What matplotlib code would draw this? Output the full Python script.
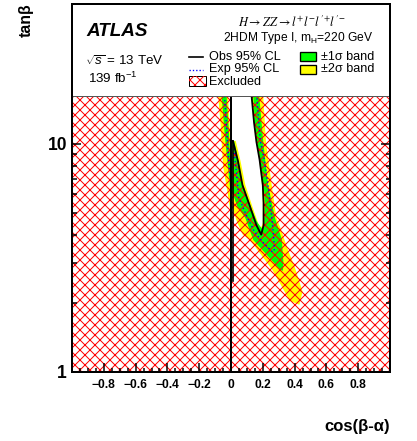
import matplotlib
matplotlib.use("Agg")
import matplotlib.pyplot as plt
from matplotlib.path import Path
from matplotlib.patches import PathPatch, Rectangle
from matplotlib.lines import Line2D
from matplotlib.ticker import MultipleLocator, LogLocator, NullFormatter, FixedLocator
import numpy as np

plt.rcParams['font.family'] = 'Liberation Sans'
plt.rcParams['mathtext.fontset'] = 'custom'
plt.rcParams['mathtext.rm'] = 'Liberation Sans'
plt.rcParams['mathtext.it'] = 'Liberation Sans:italic'
plt.rcParams['mathtext.bf'] = 'Liberation Sans:bold'
plt.rcParams['hatch.linewidth'] = 0.6
plt.rcParams['hatch.color'] = 'red'

# observed allowed region (white), x = cos(beta-alpha), t = tan(beta)
obs_x = [0.0, 0.0, 0.012, 0.044, 0.072, 0.12, 0.16, 0.19, 0.205, 0.205, 0.2, 0.18, 0.16, 0.145, 0.13, 0.1]
obs_t = [41, 10.3, 10.3, 8.4, 6.6, 5.3, 4.4, 4.0, 4.4, 5.5, 6.6, 8.5, 10.2, 12.4, 16.1, 41]

# expected contour
exp_x = [-0.042, -0.04, -0.025, -0.012, -0.002, 0.0, 0.0, 0.012, 0.03, 0.05, 0.1, 0.145, 0.2, 0.26,
         0.272, 0.27, 0.26, 0.233, 0.21, 0.185, 0.162, 0.14]
exp_t = [41, 16, 11, 8, 7, 7, 10.3, 10.3, 8.0, 5.8, 4.8, 4.15, 3.7, 3.36, 3.4, 3.8, 4.5, 6.6, 8.5,
         10.2, 16.1, 41]

# expected +2 sigma (outer yellow)
p2_x = [-0.08, -0.08, -0.065, -0.05, -0.02, -0.003, 0.01, 0.04, 0.075, 0.12, 0.26, 0.37, 0.43,
        0.45, 0.40, 0.36, 0.31, 0.286, 0.256, 0.22, 0.203, 0.18]
p2_t = [41, 16, 12, 8, 6, 5.0, 5.2, 4.5, 3.99, 3.79, 2.8, 2.05, 1.97, 2.25, 2.9, 3.4, 4.3, 4.73,
        6.6, 10.2, 16.1, 41]

# expected +1 sigma (outer green)
p1_x = [-0.06, -0.058, -0.04, -0.02, -0.005, 0.013, 0.04, 0.09, 0.14, 0.31, 0.327, 0.33, 0.32,
        0.277, 0.233, 0.203, 0.178, 0.16]
p1_t = [41, 16, 11, 8, 6.3, 6.0, 5.3, 4.73, 3.79, 2.8, 2.78, 3.0, 3.8, 4.73, 6.6, 10.2, 16.1, 41]

# expected -1 sigma
m1_x = [-0.028, -0.027, -0.012, -0.004, 0.0, 0.0, 0.02, 0.044, 0.072, 0.12, 0.16, 0.2, 0.21,
        0.215, 0.205, 0.185, 0.165, 0.15, 0.14, 0.12]
m1_t = [41, 16, 11, 8, 7.5, 10.3, 10.3, 8.6, 6.7, 5.4, 4.6, 4.2, 4.5, 5.5, 6.6, 8.5, 10.2, 12.4,
        16.1, 41]

# expected -2 sigma
m2_x = [-0.02, -0.018, -0.005, 0.0, 0.0, 0.03, 0.06, 0.09, 0.135, 0.17, 0.19, 0.2, 0.2, 0.195,
        0.178, 0.158, 0.143, 0.128, 0.1]
m2_t = [41, 16, 11, 10, 10.3, 10.3, 8.4, 6.6, 5.3, 4.5, 4.3, 4.5, 5.5, 6.6, 8.5, 10.2, 12.4, 16.1, 41]

# second observed line just right of zero
obs2_x = [0.012, 0.012]
obs2_t = [2.5, 10.3]

xmin, xmax = -1.0, 1.0
ymin, ymax = 1.0, 41.0
xticks = [-0.8, -0.6, -0.4, -0.2, 0.0, 0.2, 0.4, 0.6, 0.8]
xticklabels = ['\u22120.8', '\u22120.6', '\u22120.4', '\u22120.2', '0', '0.2', '0.4', '0.6', '0.8']
yticks = [1, 10]
yticklabels = ['1', '10']

fig = plt.figure(figsize=(417 / 120, 441 / 120), dpi=120)
ax = fig.add_axes([72 / 417, 69 / 441, 318 / 417, 368 / 441])
ax.set_yscale('log')
ax.set_xlim(xmin, xmax)
ax.set_ylim(ymin, ymax)

yellow = '#ffff00'
green = '#00ff00'

ax.fill(p2_x, p2_t, color=yellow, lw=0, zorder=1.0)
ax.fill(p1_x, p1_t, color=green, lw=0, zorder=1.1)
ax.fill(m1_x, m1_t, color=yellow, lw=0, zorder=1.2)
ax.fill(m2_x, m2_t, color='white', lw=0, zorder=1.3)

# excluded = whole frame minus observed allowed region
rect = np.array([[xmin, ymin], [xmax, ymin], [xmax, ymax], [xmin, ymax], [xmin, ymin]])
hole = np.column_stack([obs_x, obs_t])
area = 0.5 * np.sum(hole[:, 0] * np.roll(hole[:, 1], -1) - np.roll(hole[:, 0], -1) * hole[:, 1])
if area > 0:
    hole = hole[::-1]
hole = np.vstack([hole, hole[:1]])
verts = np.vstack([rect, hole])
codes = ([Path.MOVETO] + [Path.LINETO] * 3 + [Path.CLOSEPOLY] +
         [Path.MOVETO] + [Path.LINETO] * (len(hole) - 2) + [Path.CLOSEPOLY])
excl = PathPatch(Path(verts, codes), facecolor='none', edgecolor='red', lw=0, hatch='xxxx', zorder=1.5)
ax.add_patch(excl)

ax.plot(exp_x, exp_t, color='blue', lw=0.8, ls=(0, (1, 2)), zorder=1.7)
ax.plot(obs_x[1:], obs_t[1:], color='black', lw=1.1, zorder=1.8)
ax.plot([0, 0], [ymin, ymax], color='black', lw=1.2, zorder=1.8)
ax.plot(obs2_x, obs2_t, color='black', lw=1.0, zorder=1.8)

# legend / label box over the top part
ax.add_patch(Rectangle((0, 0.75), 1, 0.25, transform=ax.transAxes, facecolor='white',
                       edgecolor='#555555', lw=0.6, zorder=2.0))

T = ax.transAxes
ax.text(0.044, 0.912, 'ATLAS', transform=T, fontsize=11.3, fontweight='bold', style='italic',
        va='baseline', zorder=3)
ax.text(0.041, 0.845, r'$\sqrt{s}$ = 13 TeV', transform=T, fontsize=8, va='center', zorder=3)
ax.text(0.050, 0.797, r'139 fb$^{-1}$', transform=T, fontsize=8, va='center', zorder=3)
ax.text(0.692, 0.950, r"$H \rightarrow ZZ \rightarrow l^{+}l^{-}l'^{+}l'^{-}$", transform=T,
        fontsize=7.5, ha='center', va='center', math_fontfamily='stix', zorder=3)
ax.text(0.475, 0.908, r'2HDM Type I, m$_{\mathrm{H}}$=220 GeV', transform=T, fontsize=7.2,
        va='center', zorder=3)

ax.add_line(Line2D([0.368, 0.412], [0.855, 0.855], transform=T, color='black', lw=1.0, zorder=3))
ax.add_line(Line2D([0.368, 0.412], [0.822, 0.822], transform=T, color='blue', lw=0.8,
                   ls=(0, (1, 1.5)), zorder=3))
ax.add_patch(Rectangle((0.368, 0.777), 0.053, 0.027, transform=T, facecolor='white',
                       edgecolor='black', lw=0.6, zorder=3))
ax.add_patch(Rectangle((0.368, 0.777), 0.053, 0.027, transform=T, facecolor='none',
                       edgecolor='red', lw=0, hatch='xxxx', zorder=3.1))
ax.text(0.431, 0.857, 'Obs 95% CL', transform=T, fontsize=7.6, va='center', zorder=3)
ax.text(0.431, 0.823, 'Exp 95% CL', transform=T, fontsize=7.6, va='center', zorder=3)
ax.text(0.431, 0.789, 'Excluded', transform=T, fontsize=7.6, va='center', zorder=3)

ax.add_patch(Rectangle((0.717, 0.844), 0.050, 0.025, transform=T, facecolor=green,
                       edgecolor='black', lw=0.8, zorder=3))
ax.add_patch(Rectangle((0.717, 0.809), 0.050, 0.025, transform=T, facecolor=yellow,
                       edgecolor='black', lw=0.8, zorder=3))
ax.text(0.783, 0.857, '\u00b11\u03c3 band', transform=T, fontsize=7.6, va='center', zorder=3)
ax.text(0.783, 0.823, '\u00b12\u03c3 band', transform=T, fontsize=7.6, va='center', zorder=3)

# axes styling
for s in ax.spines.values():
    s.set_linewidth(1.2)
    s.set_zorder(2.5)
ax.xaxis.set_major_locator(FixedLocator(xticks))
ax.set_xticklabels(xticklabels, fontsize=7.2, fontweight='bold')
ax.xaxis.set_minor_locator(MultipleLocator(0.05))
ax.yaxis.set_major_locator(FixedLocator(yticks))
ax.set_yticklabels(yticklabels, fontsize=10.5, fontweight='bold')
ax.yaxis.set_minor_locator(LogLocator(base=10, subs=np.arange(2, 10)))
ax.yaxis.set_minor_formatter(NullFormatter())
ax.tick_params(which='both', direction='in', top=True, right=True, width=0.9)
ax.tick_params(which='major', length=5.4)
ax.tick_params(which='minor', length=2.7)
ax.tick_params(axis='x', pad=4)
ax.tick_params(axis='y', pad=3)

fig.text(26 / 417, 1 - 20 / 441, 'tan\u03b2', rotation=90, fontsize=9.5, fontweight='bold',
         ha='center', va='center')
fig.text(390 / 417, 1 - 426 / 441, 'cos(\u03b2-\u03b1)', fontsize=10, fontweight='bold',
         ha='right', va='center')

fig.savefig('out.png', dpi=120)
